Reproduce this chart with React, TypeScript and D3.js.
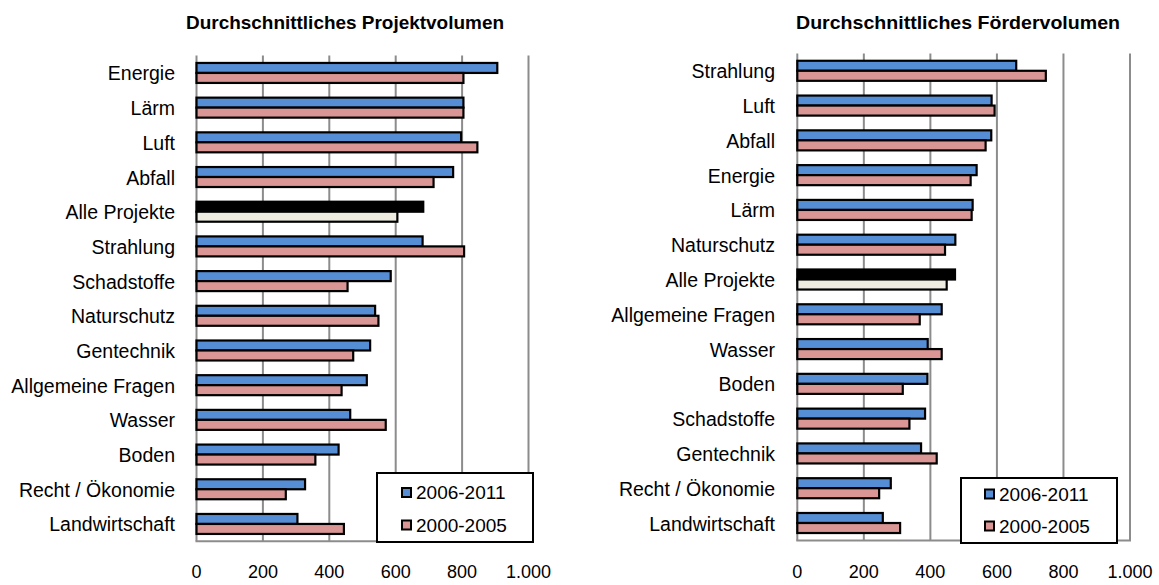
import React from "react";
import * as d3 from "d3";

const catsLeft = ["Energie","Lärm","Luft","Abfall","Alle Projekte","Strahlung","Schadstoffe","Naturschutz","Gentechnik","Allgemeine Fragen","Wasser","Boden","Recht / Ökonomie","Landwirtschaft"];
const left2006 = [906,804,797,773,683,681,585,538,523,513,463,428,327,304];
const left2000 = [804,804,846,714,605,806,455,548,472,437,570,358,269,444];

const catsRight = ["Strahlung","Luft","Abfall","Energie","Lärm","Naturschutz","Alle Projekte","Allgemeine Fragen","Wasser","Boden","Schadstoffe","Gentechnik","Recht / Ökonomie","Landwirtschaft"];
const right2006 = [658,584,583,539,527,475,474,434,392,391,384,372,281,257];
const right2000 = [747,593,566,521,524,444,449,368,434,317,337,419,246,309];

const ticks = [0,200,400,600,800,1000];
const tickLabels = ["0","200","400","600","800","1.000"];
const seriesNames = ["2006-2011","2000-2005"];

const BLUE = "#558ED5";
const PINK = "#D99694";
const BEIGE = "#EEECE1";
const GRID = "#8c8c8c";
const FONT = "'Liberation Sans', Arial, sans-serif";

type PanelProps = {
  title: string; titleX: number; titleW: number;
  cats: string[]; a: number[]; b: number[];
  x0: number; x1: number; top: number; bottom: number; labelX: number;
  legend: { x: number; y: number; w: number; h: number; row1: number; row2: number; mx: number };
};

function Panel(p: PanelProps) {
  const x = d3.scaleLinear().domain([0, 1000]).range([p.x0, p.x1]);
  const pad = 0.424;
  const y = d3.scaleBand<string>().domain(p.cats).range([p.top, p.bottom]).paddingInner(pad).paddingOuter(pad / 2);
  const bw = y.bandwidth() / 2;
  return (
    <g>
      <text x={p.titleX - p.titleW / 2} y={28.5} fontFamily={FONT} fontWeight="bold" fontSize={17.5}
        textLength={p.titleW} lengthAdjust="spacingAndGlyphs">{p.title}</text>
      {ticks.map((t, i) => (
        <line key={"g" + i} x1={x(t)} x2={x(t)} y1={p.top} y2={p.bottom} stroke={GRID} strokeWidth={2} />
      ))}
      <line x1={x(0) - 1} x2={x(1000) + 1} y1={p.bottom} y2={p.bottom} stroke={GRID} strokeWidth={2} />
      {ticks.map((t, i) => (
        <text key={"t" + i} x={x(t)} y={578} textAnchor="middle" fontFamily={FONT} fontSize={18}>{tickLabels[i]}</text>
      ))}
      {p.cats.map((c, i) => {
        const yy = y(c)!;
        const all = c === "Alle Projekte";
        const cy = yy + bw;
        return (
          <g key={c}>
            <text x={p.labelX} y={cy + 7.5} textAnchor="end" fontFamily={FONT} fontSize={19.5}>{c}</text>
            <rect x={x(0)} y={yy} width={x(p.a[i]) - x(0)} height={bw} fill={all ? "#000" : BLUE} stroke="#000" strokeWidth={2.2} />
            <rect x={x(0)} y={yy + bw} width={x(p.b[i]) - x(0)} height={bw} fill={all ? BEIGE : PINK} stroke="#000" strokeWidth={2.2} />
          </g>
        );
      })}
      <rect x={p.legend.x} y={p.legend.y} width={p.legend.w} height={p.legend.h} fill="#fff" stroke="#000" strokeWidth={2} />
      {[p.legend.row1, p.legend.row2].map((ry, i) => (
        <g key={"l" + i}>
          <rect x={p.legend.mx} y={ry - 11} width={9} height={9} fill={i === 0 ? BLUE : PINK} stroke="#000" strokeWidth={2} />
          <text x={p.legend.mx + 14} y={ry} fontFamily={FONT} fontSize={19}>{seriesNames[i]}</text>
        </g>
      ))}
    </g>
  );
}

export default function App() {
  return (
    <svg width={1159} height={585} style={{ position: "absolute", left: 0, top: 0, background: "#fff" }}>
      <rect width={1159} height={585} fill="#fff" />
      <Panel title="Durchschnittliches Projektvolumen" titleX={345} titleW={318} cats={catsLeft} a={left2006} b={left2000}
        x0={196.5} x1={528.5} top={55.6} bottom={541.3} labelX={175}
        legend={{ x: 377, y: 473, w: 156, h: 69, row1: 499, row2: 531.5, mx: 402 }} />
      <Panel title="Durchschnittliches Fördervolumen" titleX={958} titleW={324} cats={catsRight} a={right2006} b={right2000}
        x0={797.3} x1={1130} top={53.4} bottom={540.4} labelX={775}
        legend={{ x: 961, y: 478, w: 156, h: 65, row1: 500.5, row2: 532.5, mx: 985 }} />
    </svg>
  );
}
